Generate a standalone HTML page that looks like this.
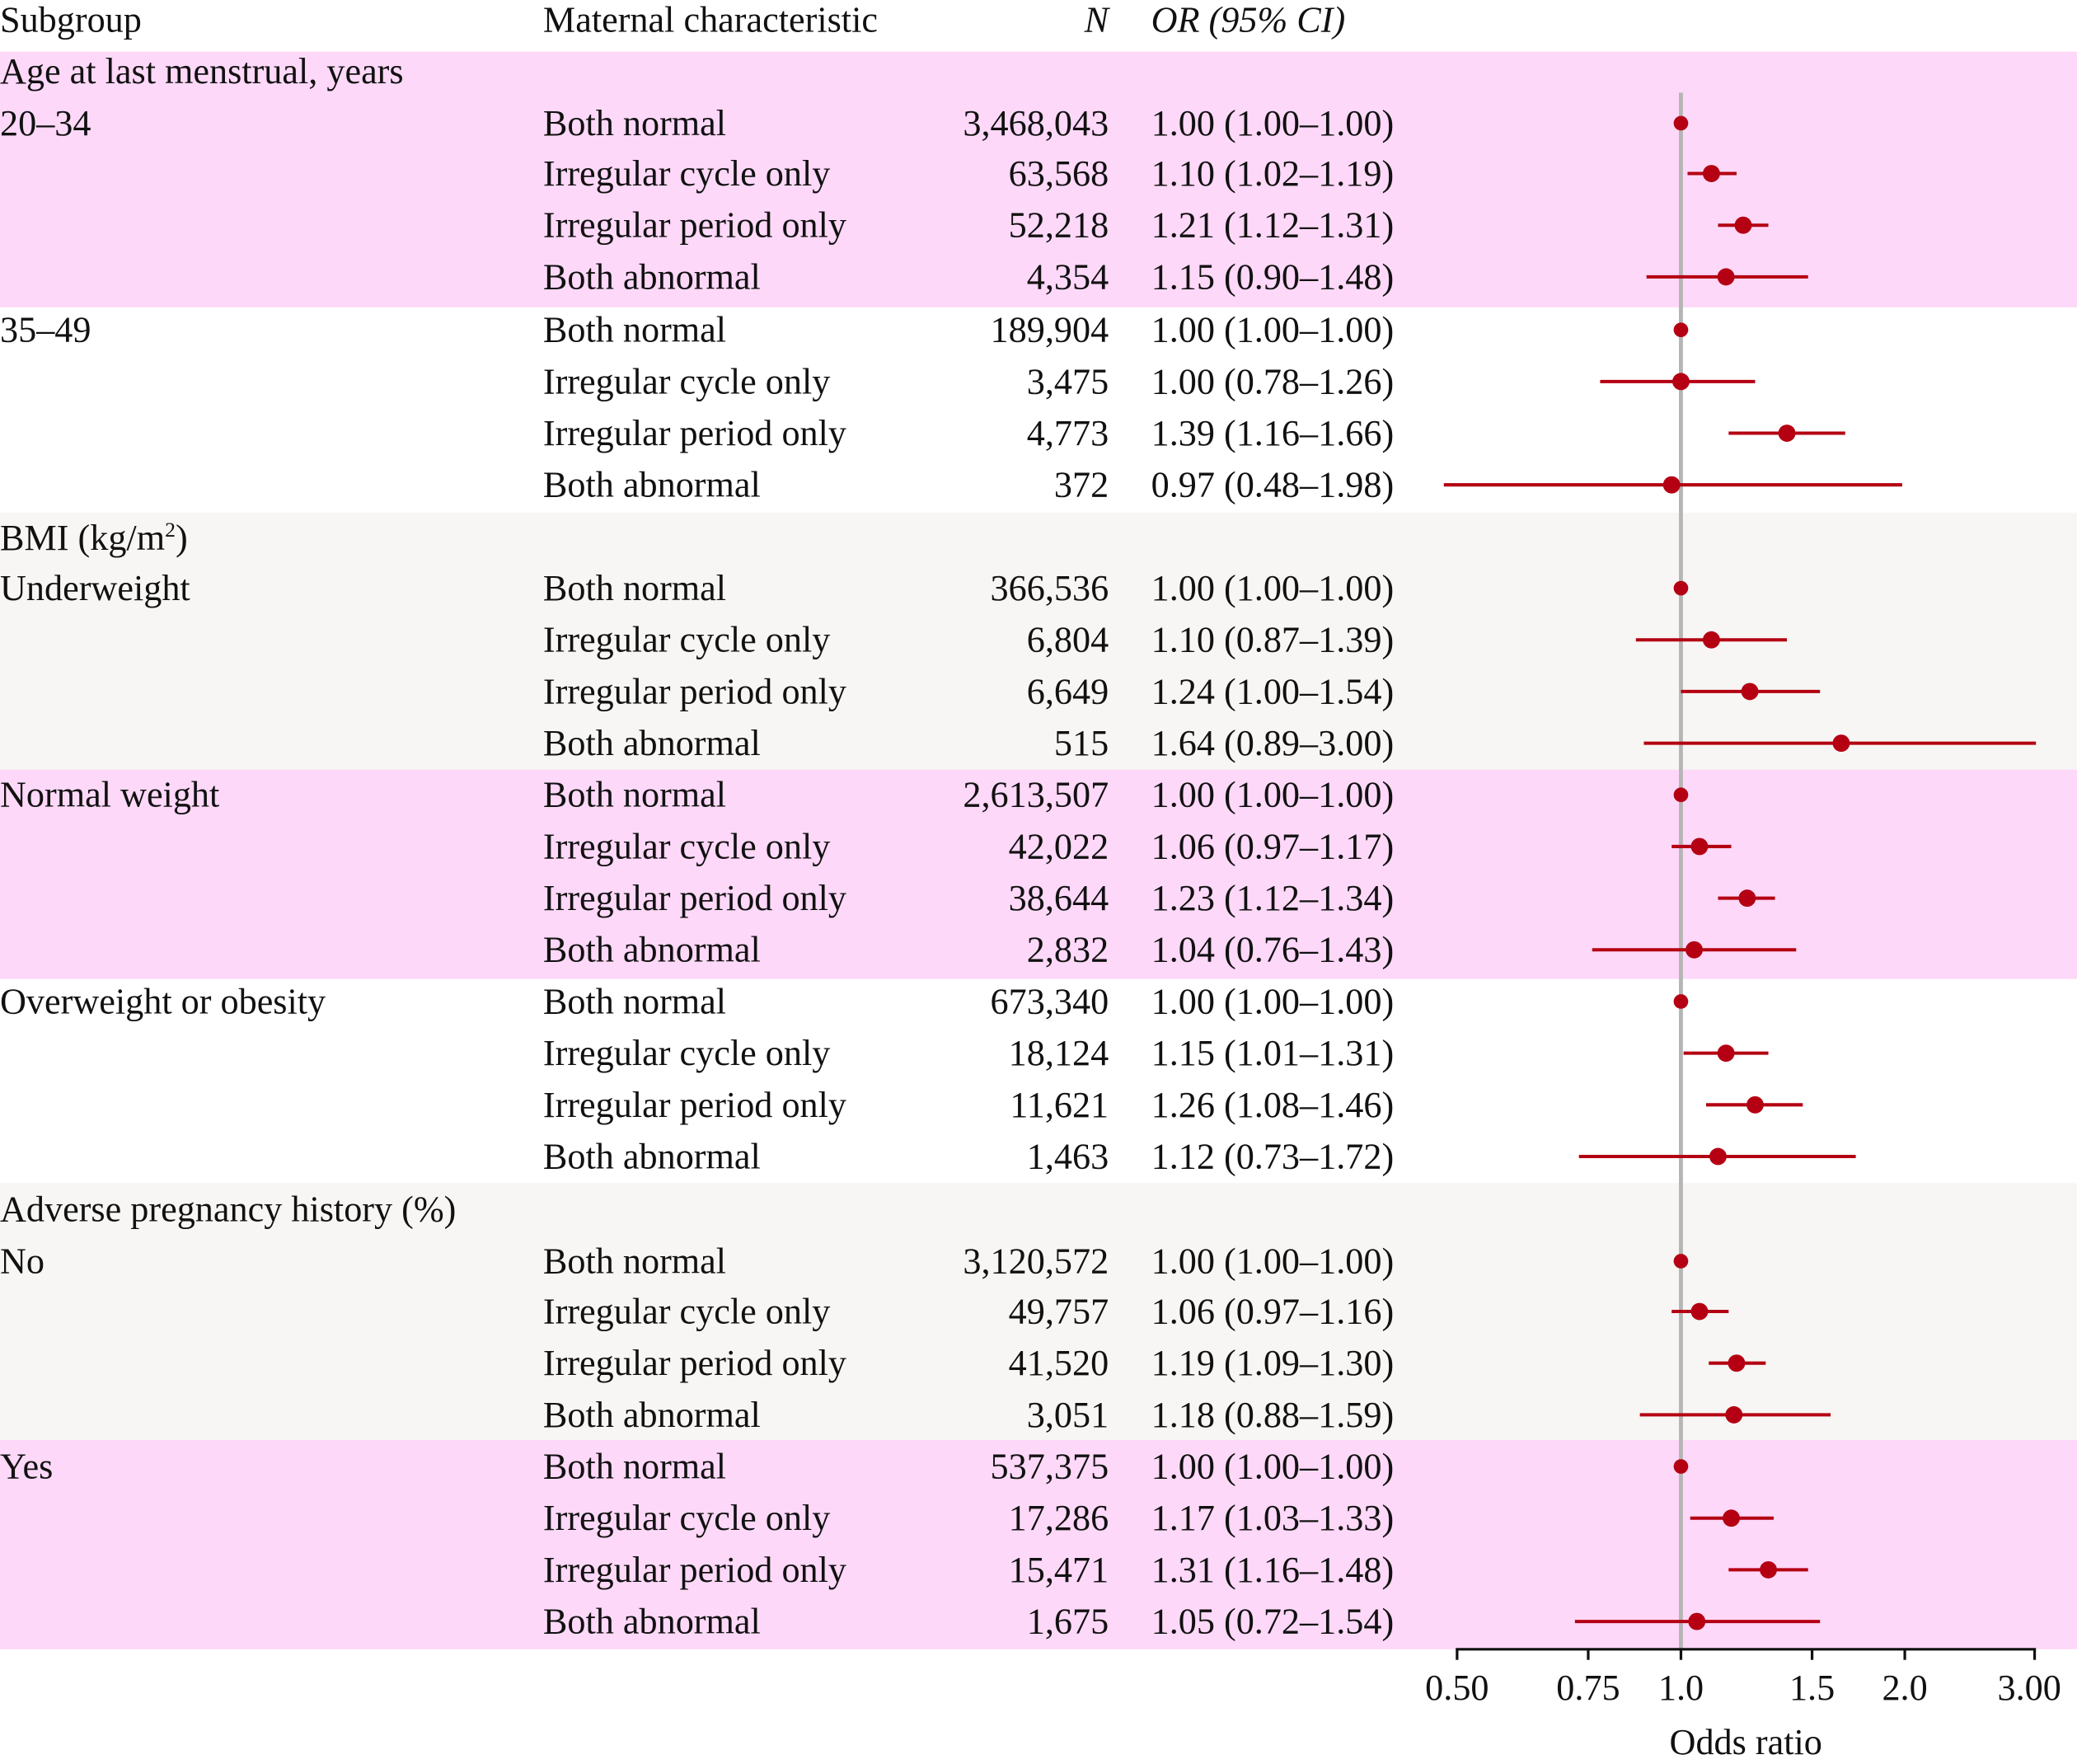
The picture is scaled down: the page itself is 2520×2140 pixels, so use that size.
<!DOCTYPE html>
<html><head><meta charset="utf-8"><style>
html,body{margin:0;padding:0;background:#fff;}
svg{display:block;}
text{font-family:"Liberation Serif",serif;font-size:27.5px;fill:#111;}
</style></head><body>
<svg width="2520" height="2140" viewBox="0 0 1568 1331.6" preserveAspectRatio="none" xmlns="http://www.w3.org/2000/svg">
<rect x="0" y="39" width="1568" height="193" fill="#fdd8f8"/>
<rect x="0" y="387" width="1568" height="194" fill="#f7f6f4"/>
<rect x="0" y="581" width="1568" height="158" fill="#fdd8f8"/>
<rect x="0" y="893" width="1568" height="194" fill="#f7f6f4"/>
<rect x="0" y="1087" width="1568" height="158" fill="#fdd8f8"/>
<line x1="1269" y1="70" x2="1269" y2="1245" stroke="#b5b5b5" stroke-width="3"/>
<g>
<text x="0" y="24">Subgroup</text><text x="410" y="24">Maternal characteristic</text>
<text x="837" y="24" text-anchor="end" font-style="italic">N</text><text x="869" y="24" font-style="italic">OR (95% CI)</text>
<text x="0" y="63">Age at last menstrual, years</text>
<text x="0" y="415">BMI (kg/m<tspan font-size="16" dy="-10">2</tspan><tspan dy="10">)</tspan></text>
<text x="0" y="922">Adverse pregnancy history (%)</text>
<text x="0" y="102">20–34</text><text x="0" y="258">35–49</text><text x="0" y="453">Underweight</text>
<text x="0" y="609">Normal weight</text><text x="0" y="765">Overweight or obesity</text>
<text x="0" y="961">No</text><text x="0" y="1116">Yes</text>
</g>
<g>
<text x="410" y="102">Both normal</text><text x="410" y="140">Irregular cycle only</text><text x="410" y="179">Irregular period only</text><text x="410" y="218">Both abnormal</text>
<text x="410" y="258">Both normal</text><text x="410" y="297">Irregular cycle only</text><text x="410" y="336">Irregular period only</text><text x="410" y="375">Both abnormal</text>
<text x="410" y="453">Both normal</text><text x="410" y="492">Irregular cycle only</text><text x="410" y="531">Irregular period only</text><text x="410" y="570">Both abnormal</text>
<text x="410" y="609">Both normal</text><text x="410" y="648">Irregular cycle only</text><text x="410" y="687">Irregular period only</text><text x="410" y="726">Both abnormal</text>
<text x="410" y="765">Both normal</text><text x="410" y="804">Irregular cycle only</text><text x="410" y="843">Irregular period only</text><text x="410" y="882">Both abnormal</text>
<text x="410" y="961">Both normal</text><text x="410" y="999">Irregular cycle only</text><text x="410" y="1038">Irregular period only</text><text x="410" y="1077">Both abnormal</text>
<text x="410" y="1116">Both normal</text><text x="410" y="1155">Irregular cycle only</text><text x="410" y="1194">Irregular period only</text><text x="410" y="1233">Both abnormal</text>
</g>
<g text-anchor="end">
<text x="837" y="102">3,468,043</text><text x="837" y="140">63,568</text><text x="837" y="179">52,218</text><text x="837" y="218">4,354</text>
<text x="837" y="258">189,904</text><text x="837" y="297">3,475</text><text x="837" y="336">4,773</text><text x="837" y="375">372</text>
<text x="837" y="453">366,536</text><text x="837" y="492">6,804</text><text x="837" y="531">6,649</text><text x="837" y="570">515</text>
<text x="837" y="609">2,613,507</text><text x="837" y="648">42,022</text><text x="837" y="687">38,644</text><text x="837" y="726">2,832</text>
<text x="837" y="765">673,340</text><text x="837" y="804">18,124</text><text x="837" y="843">11,621</text><text x="837" y="882">1,463</text>
<text x="837" y="961">3,120,572</text><text x="837" y="999">49,757</text><text x="837" y="1038">41,520</text><text x="837" y="1077">3,051</text>
<text x="837" y="1116">537,375</text><text x="837" y="1155">17,286</text><text x="837" y="1194">15,471</text><text x="837" y="1233">1,675</text>
</g>
<g>
<text x="869" y="102">1.00 (1.00–1.00)</text><text x="869" y="140">1.10 (1.02–1.19)</text><text x="869" y="179">1.21 (1.12–1.31)</text><text x="869" y="218">1.15 (0.90–1.48)</text>
<text x="869" y="258">1.00 (1.00–1.00)</text><text x="869" y="297">1.00 (0.78–1.26)</text><text x="869" y="336">1.39 (1.16–1.66)</text><text x="869" y="375">0.97 (0.48–1.98)</text>
<text x="869" y="453">1.00 (1.00–1.00)</text><text x="869" y="492">1.10 (0.87–1.39)</text><text x="869" y="531">1.24 (1.00–1.54)</text><text x="869" y="570">1.64 (0.89–3.00)</text>
<text x="869" y="609">1.00 (1.00–1.00)</text><text x="869" y="648">1.06 (0.97–1.17)</text><text x="869" y="687">1.23 (1.12–1.34)</text><text x="869" y="726">1.04 (0.76–1.43)</text>
<text x="869" y="765">1.00 (1.00–1.00)</text><text x="869" y="804">1.15 (1.01–1.31)</text><text x="869" y="843">1.26 (1.08–1.46)</text><text x="869" y="882">1.12 (0.73–1.72)</text>
<text x="869" y="961">1.00 (1.00–1.00)</text><text x="869" y="999">1.06 (0.97–1.16)</text><text x="869" y="1038">1.19 (1.09–1.30)</text><text x="869" y="1077">1.18 (0.88–1.59)</text>
<text x="869" y="1116">1.00 (1.00–1.00)</text><text x="869" y="1155">1.17 (1.03–1.33)</text><text x="869" y="1194">1.31 (1.16–1.48)</text><text x="869" y="1233">1.05 (0.72–1.54)</text>
</g>
<g stroke="#b40012" stroke-width="2.5">
<line x1="1274" y1="131" x2="1311" y2="131"/><line x1="1297" y1="170" x2="1335" y2="170"/><line x1="1243" y1="209" x2="1365" y2="209"/>
<line x1="1208" y1="288" x2="1325" y2="288"/><line x1="1305" y1="327" x2="1393" y2="327"/><line x1="1090" y1="366" x2="1436" y2="366"/>
<line x1="1235" y1="483" x2="1349" y2="483"/><line x1="1269" y1="522" x2="1374" y2="522"/><line x1="1241" y1="561" x2="1537" y2="561"/>
<line x1="1262" y1="639" x2="1307" y2="639"/><line x1="1297" y1="678" x2="1340" y2="678"/><line x1="1202" y1="717" x2="1356" y2="717"/>
<line x1="1271" y1="795" x2="1335" y2="795"/><line x1="1288" y1="834" x2="1361" y2="834"/><line x1="1192" y1="873" x2="1401" y2="873"/>
<line x1="1262" y1="990" x2="1305" y2="990"/><line x1="1290" y1="1029" x2="1333" y2="1029"/><line x1="1238" y1="1068" x2="1382" y2="1068"/>
<line x1="1276" y1="1146" x2="1339" y2="1146"/><line x1="1305" y1="1185" x2="1365" y2="1185"/><line x1="1189" y1="1224" x2="1374" y2="1224"/>
</g>
<g fill="#b40012">
<circle cx="1269" cy="93" r="5.5"/><circle cx="1292" cy="131" r="6.5"/><circle cx="1316" cy="170" r="6.5"/><circle cx="1303" cy="209" r="6.5"/>
<circle cx="1269" cy="249" r="5.5"/><circle cx="1269" cy="288" r="6.5"/><circle cx="1349" cy="327" r="6.5"/><circle cx="1262" cy="366" r="6.5"/>
<circle cx="1269" cy="444" r="5.5"/><circle cx="1292" cy="483" r="6.5"/><circle cx="1321" cy="522" r="6.5"/><circle cx="1390" cy="561" r="6.5"/>
<circle cx="1269" cy="600" r="5.5"/><circle cx="1283" cy="639" r="6.5"/><circle cx="1319" cy="678" r="6.5"/><circle cx="1279" cy="717" r="6.5"/>
<circle cx="1269" cy="756" r="5.5"/><circle cx="1303" cy="795" r="6.5"/><circle cx="1325" cy="834" r="6.5"/><circle cx="1297" cy="873" r="6.5"/>
<circle cx="1269" cy="952" r="5.5"/><circle cx="1283" cy="990" r="6.5"/><circle cx="1311" cy="1029" r="6.5"/><circle cx="1309" cy="1068" r="6.5"/>
<circle cx="1269" cy="1107" r="5.5"/><circle cx="1307" cy="1146" r="6.5"/><circle cx="1335" cy="1185" r="6.5"/><circle cx="1281" cy="1224" r="6.5"/>
</g>
<g stroke="#111" stroke-width="2">
<line x1="1099" y1="1245" x2="1537" y2="1245"/>
<line x1="1100" y1="1245" x2="1100" y2="1253"/><line x1="1199" y1="1245" x2="1199" y2="1253"/><line x1="1269" y1="1245" x2="1269" y2="1253"/>
<line x1="1368" y1="1245" x2="1368" y2="1253"/><line x1="1438" y1="1245" x2="1438" y2="1253"/><line x1="1536" y1="1245" x2="1536" y2="1253"/>
</g>
<g text-anchor="middle">
<text x="1100" y="1283">0.50</text><text x="1199" y="1283">0.75</text><text x="1269" y="1283">1.0</text>
<text x="1368" y="1283">1.5</text><text x="1438" y="1283">2.0</text><text x="1532" y="1283">3.00</text>
<text x="1318" y="1324">Odds ratio</text>
</g>
</svg>
</body></html>
